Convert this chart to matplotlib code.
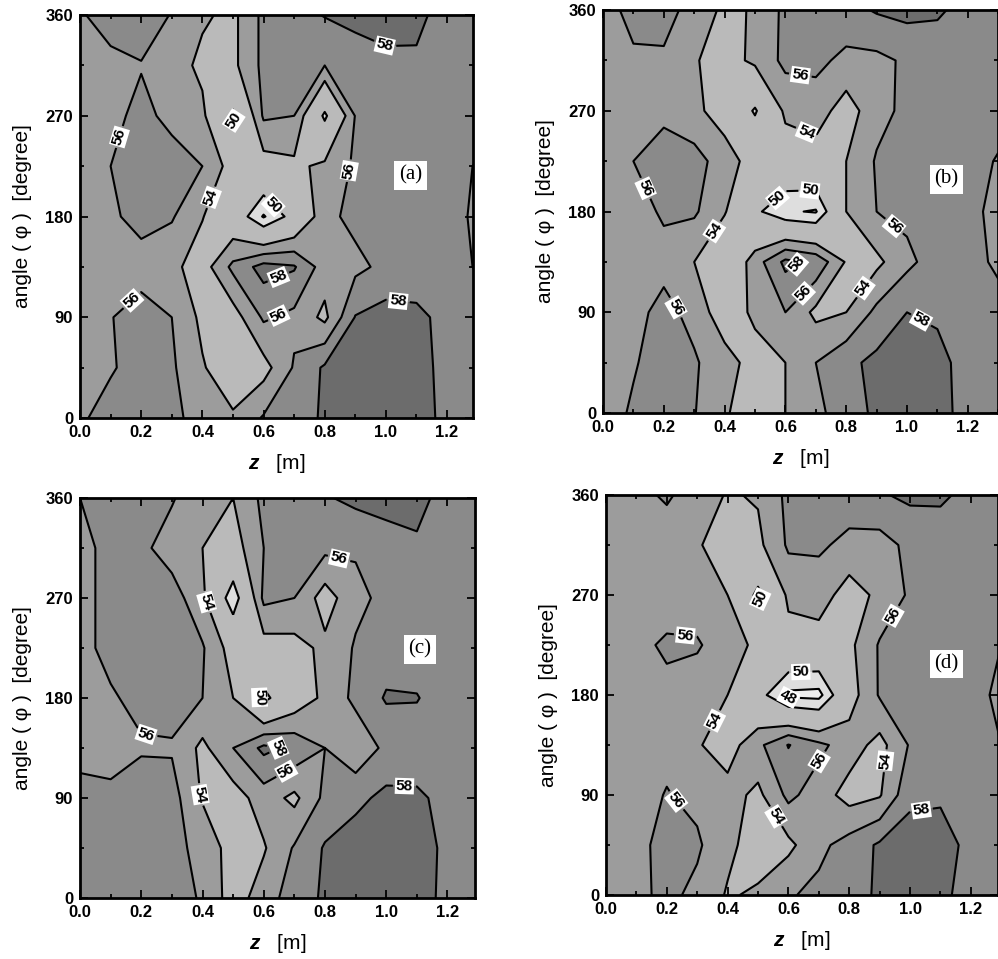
import matplotlib.pyplot as plt
import numpy as np
from matplotlib.ticker import MultipleLocator

plt.rcParams["font.family"] = ["Liberation Sans", "DejaVu Sans"]
plt.rcParams["font.weight"] = "bold"
plt.rcParams["mathtext.fontset"] = "custom"
plt.rcParams["mathtext.it"] = "Liberation Sans:italic:bold"

# measurement grid: axial position z [m] and circumferential angle [deg]
z = np.round(np.arange(0, 1.31, 0.1), 1)
angle = np.arange(0, 361, 45)

# rows: angle 0, 45, ..., 360 ; columns: z = 0.0 ... 1.3
field_a = [
    [55.7, 56.8, 57.0, 56.5, 55.2, 54.3, 56.2, 57.0, 58.3, 59.0, 59.2, 58.8, 57.5, 57.2],
    [55.0, 55.8, 56.8, 56.3, 54.2, 52.5, 53.2, 56.2, 58.3, 59.0, 59.3, 58.6, 57.5, 57.2],
    [55.3, 55.9, 57.0, 56.0, 53.5, 53.0, 56.3, 55.5, 53.5, 58.1, 58.8, 58.4, 57.5, 57.3],
    [55.0, 55.0, 55.0, 54.5, 53.0, 56.5, 58.8, 58.2, 55.0, 55.5, 56.5, 57.0, 57.0, 55.8],
    [55.0, 55.6, 56.8, 56.2, 54.1, 52.0, 47.8, 51.0, 55.5, 56.5, 57.0, 57.0, 57.0, 55.5],
    [55.0, 56.0, 57.0, 56.8, 56.0, 53.0, 53.0, 53.5, 54.5, 56.3, 57.0, 57.0, 57.0, 55.8],
    [55.0, 55.5, 56.5, 55.5, 54.5, 49.5, 56.3, 56.0, 49.5, 56.1, 57.0, 57.2, 57.2, 57.0],
    [55.0, 55.5, 55.9, 55.0, 53.5, 53.5, 56.5, 57.0, 56.0, 56.5, 57.5, 57.8, 57.6, 57.0],
    [55.8, 56.8, 57.0, 55.9, 54.3, 53.5, 56.5, 57.3, 58.1, 58.8, 58.8, 58.3, 57.5, 57.3],
]
field_b = [
    [55.0, 56.3, 57.0, 56.1, 54.3, 52.5, 54.0, 55.5, 57.0, 58.4, 59.0, 58.5, 57.5, 57.0],
    [55.0, 55.8, 57.0, 56.2, 55.0, 53.0, 54.0, 56.0, 57.5, 58.5, 59.0, 58.4, 57.5, 57.0],
    [55.0, 55.5, 56.5, 55.5, 52.5, 54.5, 56.0, 53.5, 54.0, 56.5, 58.0, 57.8, 57.3, 57.0],
    [55.5, 55.5, 55.5, 54.0, 51.5, 55.0, 58.5, 57.5, 53.8, 53.5, 55.5, 57.0, 57.0, 55.5],
    [55.0, 55.4, 56.2, 56.3, 54.2, 50.5, 48.3, 47.8, 54.0, 56.0, 56.5, 56.8, 56.5, 55.5],
    [55.0, 56.0, 57.0, 56.8, 55.0, 53.0, 52.5, 53.0, 54.0, 56.2, 57.0, 57.0, 57.0, 55.8],
    [55.5, 55.5, 55.5, 54.5, 53.0, 49.7, 54.5, 55.0, 53.0, 55.3, 56.5, 57.0, 57.0, 57.0],
    [55.5, 55.8, 55.8, 54.2, 53.0, 54.5, 56.5, 56.5, 55.5, 55.5, 56.3, 56.8, 57.0, 57.0],
    [55.5, 56.4, 56.5, 55.5, 53.5, 54.2, 56.5, 56.8, 57.3, 58.2, 58.6, 58.3, 57.3, 57.0],
]
field_c = [
    [56.5, 57.0, 57.0, 56.8, 55.8, 53.0, 55.0, 57.0, 58.3, 59.0, 59.0, 58.8, 57.5, 57.5],
    [56.5, 57.0, 57.0, 56.5, 55.5, 53.0, 53.8, 56.2, 58.2, 59.0, 59.2, 58.8, 57.6, 57.4],
    [56.5, 56.3, 57.0, 56.8, 53.8, 53.0, 55.0, 53.5, 56.5, 57.5, 58.5, 58.3, 57.5, 57.3],
    [55.5, 55.5, 55.8, 55.8, 53.5, 56.0, 58.5, 57.5, 56.0, 54.5, 56.5, 57.0, 57.0, 57.0],
    [55.5, 55.8, 56.5, 56.8, 56.0, 54.0, 49.3, 52.5, 54.5, 56.5, 58.2, 58.1, 57.0, 57.0],
    [55.5, 56.5, 57.0, 57.0, 56.2, 53.0, 53.0, 53.2, 54.5, 56.2, 57.0, 57.0, 57.0, 57.0],
    [55.5, 56.5, 57.0, 57.0, 54.5, 48.5, 56.5, 56.0, 53.0, 55.5, 56.5, 57.0, 57.0, 57.0],
    [55.5, 56.5, 56.5, 55.0, 54.0, 53.0, 56.0, 57.0, 56.5, 56.2, 57.0, 57.8, 57.5, 57.0],
    [56.0, 56.5, 56.5, 56.2, 54.5, 54.0, 56.5, 57.3, 57.8, 58.5, 58.8, 58.4, 57.5, 57.3],
]
field_d = [
    [55.0, 55.5, 56.5, 55.5, 53.8, 54.3, 55.8, 56.5, 57.2, 58.3, 58.8, 58.3, 57.5, 57.3],
    [55.0, 55.5, 56.6, 56.3, 54.5, 53.0, 53.5, 55.5, 56.8, 58.3, 59.0, 58.6, 57.6, 57.3],
    [55.0, 55.3, 56.1, 55.5, 54.8, 53.5, 56.5, 55.0, 53.2, 53.8, 57.5, 57.8, 57.3, 57.0],
    [55.5, 55.5, 55.5, 54.2, 53.0, 55.5, 58.1, 56.5, 55.0, 53.3, 56.2, 57.0, 57.0, 56.0],
    [55.0, 55.3, 55.5, 55.0, 54.0, 51.0, 47.5, 47.3, 53.0, 56.2, 56.8, 57.0, 56.8, 55.5],
    [55.0, 55.5, 56.3, 56.2, 55.0, 53.5, 53.0, 53.0, 53.5, 56.2, 56.8, 57.0, 57.0, 56.0],
    [55.0, 55.0, 55.0, 55.0, 54.0, 49.3, 54.5, 55.0, 53.0, 54.5, 56.3, 57.0, 57.0, 57.0],
    [55.2, 55.2, 55.2, 54.2, 53.0, 53.5, 56.3, 56.3, 55.5, 55.2, 56.5, 57.0, 57.2, 57.0],
    [55.3, 55.6, 56.2, 55.3, 53.8, 54.2, 56.5, 56.8, 57.0, 57.8, 58.4, 58.3, 57.5, 57.2],
]

line_levels = [48, 50, 54, 56, 58]
fill_bounds = [40, 48, 50, 54, 56, 58, 66]
fill_colors = ["#eeeeee", "#dedede", "#bababa", "#9c9c9c", "#8a8a8a", "#6c6c6c"]

# where the contour labels sit (z, angle)
labels_a = [(0.99, 329), (0.50, 266), (0.13, 251), (0.86, 222), (0.44, 196),
            (0.65, 195), (0.65, 125), (0.15, 111), (0.65, 91), (1.04, 104)]
labels_b = [(0.64, 284), (0.67, 251), (0.15, 202), (0.68, 205), (0.60, 184),
            (0.42, 153), (0.93, 158), (0.65, 128), (0.82, 119), (0.66, 107),
            (0.25, 96), (1.05, 85)]
labels_c = [(0.86, 322), (0.40, 265), (0.56, 184), (0.22, 156), (0.65, 139),
            (0.68, 111), (0.39, 93), (1.06, 105)]
labels_d = [(0.51, 266), (0.94, 252), (0.26, 231), (0.64, 207), (0.60, 177),
            (0.35, 158), (0.71, 119), (0.88, 122), (0.24, 87), (0.53, 66),
            (1.04, 71)]


def draw_panel(ax, field, tag, tag_pos, label_pos, xmax):
    values = np.array(field)
    ax.contourf(z, angle, values, levels=fill_bounds, colors=fill_colors)
    cs = ax.contour(z, angle, values, levels=line_levels, colors="black",
                    linewidths=1.5)
    texts = ax.clabel(cs, fmt="%d", fontsize=11, manual=label_pos,
                      inline=True, inline_spacing=3)
    for t in texts:
        t.set_fontweight("heavy")
        t.set_bbox(dict(facecolor="white", edgecolor="none", pad=0.8))

    ax.text(tag_pos[0], tag_pos[1], tag, family="Liberation Serif",
            fontsize=15, fontweight="normal", ha="center", va="center",
            bbox=dict(facecolor="white", edgecolor="none", pad=3.5))

    ax.set_xlim(0, xmax)
    ax.set_ylim(0, 360)
    ax.xaxis.set_major_locator(MultipleLocator(0.2))
    ax.xaxis.set_minor_locator(MultipleLocator(0.1))
    ax.yaxis.set_major_locator(MultipleLocator(90))
    ax.yaxis.set_minor_locator(MultipleLocator(45))
    ax.xaxis.set_major_formatter(lambda v, p: f"{v:.1f}")
    ax.tick_params(which="both", direction="in", top=True, right=True,
                   labelsize=12, width=1.3)
    ax.tick_params(which="major", length=6, pad=5)
    ax.tick_params(which="minor", length=3)
    for lab in ax.get_xticklabels() + ax.get_yticklabels():
        lab.set_fontweight("heavy")
    for spine in ax.spines.values():
        spine.set_linewidth(2)
    ax.set_xlabel(r"$z$   [m]", fontsize=15, labelpad=9)
    ax.set_ylabel("angle ( \u03c6 )  [degree]", fontsize=15, labelpad=10)


fig = plt.figure(figsize=(9.98, 9.59), dpi=100)
ax_a = fig.add_axes([0.0802, 0.5641, 0.3938, 0.4202])
ax_b = fig.add_axes([0.6042, 0.5693, 0.3960, 0.4202])
ax_c = fig.add_axes([0.0802, 0.0636, 0.3958, 0.4171])
ax_d = fig.add_axes([0.6072, 0.0667, 0.3930, 0.4171])

draw_panel(ax_a, field_a, "(a)", (1.08, 217), labels_a, 1.285)
draw_panel(ax_b, field_b, "(b)", (1.13, 209), labels_b, 1.30)
draw_panel(ax_c, field_c, "(c)", (1.11, 224), labels_c, 1.29)
draw_panel(ax_d, field_d, "(d)", (1.12, 208), labels_d, 1.29)

fig.savefig("out.png", dpi=100)
